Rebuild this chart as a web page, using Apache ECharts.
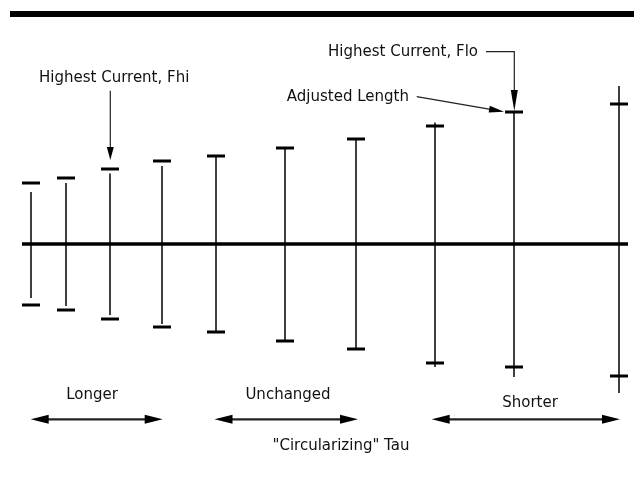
<!DOCTYPE html>
<html>
<head>
<meta charset="utf-8">
<script src="https://cdn.jsdelivr.net/npm/echarts@6/dist/echarts.min.js"></script>
<style>
  html, body { margin: 0; padding: 0; background: #fff; }
  #chart { width: 634px; height: 477px; }
</style>
</head>
<body>
<div id="chart"></div>
<script>
// ---- data (units: offset from the centre line; x = "tau" position) ----
const tau        = [31, 66, 110, 162, 216, 285, 356, 435, 514, 619];
const lineTop    = [52, 61, 70.5, 78, 88, 96, 105, 121.5, 132, 158];
const lineBottom = [54, 62, 71, 80, 88, 97, 105, 123, 133, 149];
const capTop     = [61, 66, 75, 83, 88, 96, 105, 118, 132, 140];
const capBottom  = [61, 66, 75, 83, 88, 97, 105, 119, 123, 132];
const baselineSpan = [22, 628];

const labels = {
  fhi: 'Highest Current, Fhi',
  flo: 'Highest Current, Flo',
  adj: 'Adjusted Length',
  longer: 'Longer',
  unchanged: 'Unchanged',
  shorter: 'Shorter',
  axis: '"Circularizing" Tau'
};

const chart = echarts.init(document.getElementById('chart'), null, { renderer: 'canvas' });

const barData = tau.map((t, i) => [t, lineTop[i], lineBottom[i], capTop[i], capBottom[i]]);

const FONT = '"DejaVu Sans", sans-serif';
const txt = (text, x, y, align) => ({
  type: 'text', x: x, y: y, silent: true,
  style: { text: text, fill: '#111', font: '15px ' + FONT, textAlign: align, textVerticalAlign: 'middle' }
});
function head(tip, from, len, hw) {
  const dx = tip[0] - from[0], dy = tip[1] - from[1];
  const d = Math.sqrt(dx * dx + dy * dy);
  const ux = dx / d, uy = dy / d;
  const bx = tip[0] - ux * len, by = tip[1] - uy * len;
  return {
    type: 'polygon', silent: true,
    shape: { points: [[bx - uy * hw, by + ux * hw], tip, [bx + uy * hw, by - ux * hw]] },
    style: { fill: '#000' }
  };
}
function seg(a, b, w, c) {
  return { type: 'line', silent: true, shape: { x1: a[0], y1: a[1], x2: b[0], y2: b[1] },
           style: { stroke: c || '#000', lineWidth: w } };
}
function dbl(x1, x2, y) {
  return [seg([x1 + 10, y], [x2 - 10, y], 2.2, '#222'),
          head([x1, y], [x2, y], 18, 4.5),
          head([x2, y], [x1, y], 18, 4.5)];
}

const graphics = [
  { type: 'rect', silent: true, shape: { x: 10, y: 11, width: 624, height: 6 }, style: { fill: '#000' } },
  txt(labels.fhi, 39, 78, 'left'),
  seg([110.3, 90.7], [110.3, 150], 1.2, '#222'),
  head([110.3, 160], [110.3, 90], 13, 3.5),
  txt(labels.flo, 328, 52, 'left'),
  { type: 'polyline', silent: true, shape: { points: [[486, 51.7], [514.3, 51.7], [514.3, 95]] },
    style: { stroke: '#222', lineWidth: 1.2, fill: null } },
  head([514.3, 111], [514.3, 51], 21, 3.5),
  txt(labels.adj, 409, 97, 'right'),
  seg([416.7, 96.7], [492, 109.6], 1.2, '#222'),
  head([504, 111.7], [416.7, 96.7], 15, 3.5),
  txt(labels.longer, 92, 395, 'center'),
  txt(labels.unchanged, 288, 395.5, 'center'),
  txt(labels.shorter, 530, 403.5, 'center'),
  txt(labels.axis, 341, 446.5, 'center')
].concat(dbl(30.7, 162.7, 419.3), dbl(214.5, 358, 419.3), dbl(431.7, 620, 419.3));

chart.setOption({
  animation: false,
  backgroundColor: '#fff',
  grid: { left: 0, right: 0, top: 0, bottom: 0 },
  xAxis: { type: 'value', min: 0, max: 634, show: false },
  yAxis: { type: 'value', min: -233, max: 244, show: false },
  series: [
    {
      type: 'line',
      data: baselineSpan.map(x => [x, 0]),
      symbol: 'none',
      lineStyle: { color: '#000', width: 3.5 },
      silent: true,
      z: 1
    },
    {
      type: 'custom',
      data: barData,
      z: 2,
      renderItem: function (params, api) {
        const x = api.value(0);
        const lt = api.coord([x, api.value(1)]);
        const lb = api.coord([x, -api.value(2)]);
        const ct = api.coord([x, api.value(3)]);
        const cb = api.coord([x, -api.value(4)]);
        return {
          type: 'group',
          children: [
            { type: 'line', shape: { x1: lt[0], y1: lt[1], x2: lb[0], y2: lb[1] },
              style: { stroke: '#000', lineWidth: 1.5 } },
            { type: 'rect', shape: { x: ct[0] - 9, y: ct[1] - 1.5, width: 18, height: 3 },
              style: { fill: '#000' } },
            { type: 'rect', shape: { x: cb[0] - 9, y: cb[1] - 1.5, width: 18, height: 3 },
              style: { fill: '#000' } }
          ]
        };
      }
    }
  ],
  graphic: graphics
});
</script>
</body>
</html>
